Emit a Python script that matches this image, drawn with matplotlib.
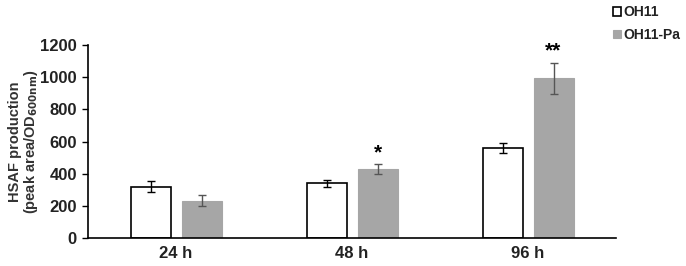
import numpy as np
import matplotlib
matplotlib.use("Agg")
import matplotlib.pyplot as plt

plt.rcParams['font.family'] = ['Liberation Sans', 'DejaVu Sans']
plt.rcParams['font.weight'] = 'bold'

# data
categories = ["24 h", "48 h", "96 h"]
oh11 = [320, 340, 558]
oh11_err = [36, 21, 31]
oh11_pa = [233, 427, 992]
oh11_pa_err = [36, 30, 97]
stars = ["", "*", "**"]

fig = plt.figure(figsize=(6.86, 2.66), dpi=100)
ax = fig.add_axes([88 / 686, 1 - 238 / 266, 528 / 686, 193 / 266])

x = np.arange(len(categories))
w = 40 / 176
gap = 11 / 176
off = (w + gap) / 2

ax.bar(x - off, oh11, w, color="white", edgecolor="black", linewidth=1.2,
       yerr=oh11_err, error_kw=dict(ecolor="black", elinewidth=1, capsize=3, capthick=1),
       label="OH11")
ax.bar(x + off, oh11_pa, w, color="#a6a6a6", edgecolor="#a6a6a6", linewidth=0.8,
       yerr=oh11_pa_err, error_kw=dict(ecolor="#555555", elinewidth=1, capsize=3, capthick=1),
       label="OH11-Pa")

# significance marks
for i, s in enumerate(stars):
    if s:
        ax.text(x[i] + off, oh11_pa[i] + oh11_pa_err[i] + 15, s, ha="center", va="bottom",
                fontsize=15, fontweight="bold")

ax.set_xlim(-0.5, 2.5)
ax.set_ylim(0, 1200)
ax.set_yticks(range(0, 1201, 200))
ax.set_xticks(x)
ax.set_xticklabels(categories, fontsize=12, fontweight="bold", color="#222222")
ax.tick_params(axis="x", length=0, pad=6)
ax.tick_params(axis="y", labelsize=12, length=4, width=1, pad=4, labelcolor="#222222")
for lab in ax.get_yticklabels():
    lab.set_fontweight("bold")
ax.spines["top"].set_visible(False)
ax.spines["right"].set_visible(False)
ax.spines["left"].set_linewidth(1.2)
ax.spines["bottom"].set_linewidth(1.2)

ax.set_ylabel("HSAF production\n(peak area/OD$_{\\mathbf{600nm}}$)", fontsize=10.5,
              fontweight="bold", color="#333333", labelpad=0, linespacing=1.0)

leg = ax.legend(loc="upper left", bbox_to_anchor=(612 / 686, 1 - 4 / 266), bbox_transform=fig.transFigure,
                frameon=False, fontsize=10, handlelength=0.55, handleheight=0.55,
                handletextpad=0.2, labelspacing=0.6, borderpad=0.1, borderaxespad=0)
for t in leg.get_texts():
    t.set_color("#222222")

fig.savefig("out.png", dpi=100)
